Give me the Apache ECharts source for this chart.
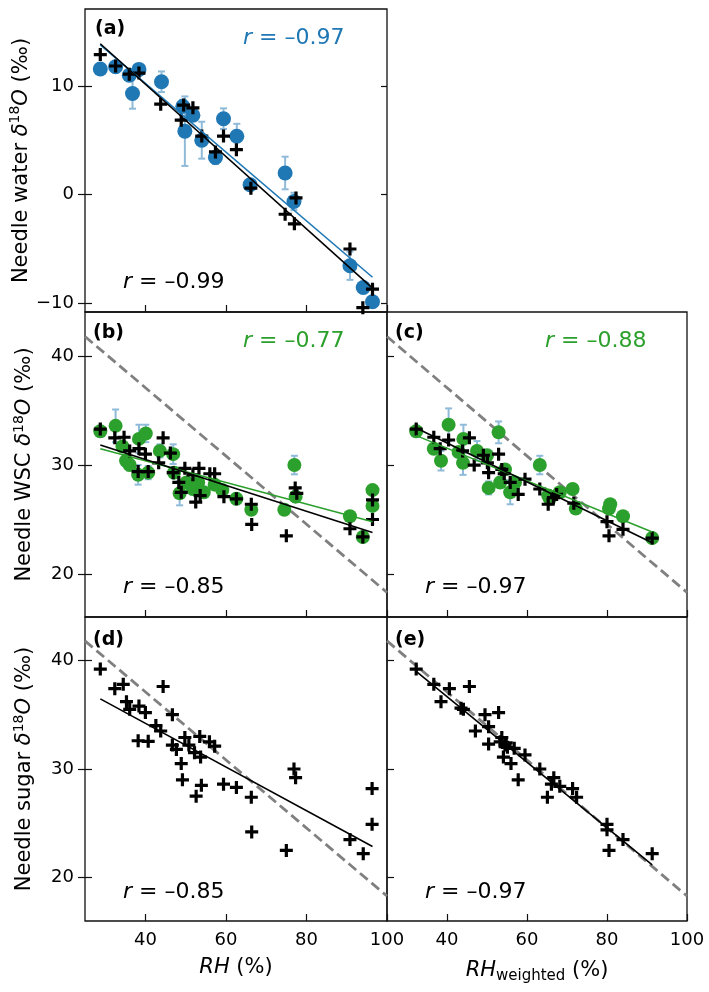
<!DOCTYPE html>
<html><head><meta charset="utf-8">
<script src="https://cdn.jsdelivr.net/npm/echarts@6/dist/echarts.min.js"></script>
<style>html,body{margin:0;padding:0;background:#fff}#c{width:709px;height:992px}</style>
</head><body><div id="c"></div>
<script>
// ---------- tick labels ----------
const xTicks = [40, 60, 80, 100];
const yTicksWater = [-10, 0, 10];
const yTicksWSC = [20, 30, 40];
const yTicksSugar = [20, 30, 40];

// ---------- panel (a): needle water ----------
const aCrossX = [28.8, 32.6, 36.0, 38.4, 43.8, 49.5, 51.8, 48.9, 54.0, 59.4, 57.4, 62.6, 66.2, 74.7, 77.0, 77.4, 90.8, 96.4, 94.0];
const aCrossY = [12.9, 11.85, 11.1, 11.2, 8.34, 8.25, 8.0, 6.86, 5.4, 5.4, 3.94, 4.15, 0.6, -1.8, -2.68, -0.3, -5.0, -8.7, -10.4];
const aCircX = [28.8, 32.6, 36.0, 36.8, 38.4, 44.0, 49.3, 51.8, 49.8, 54.0, 59.4, 57.4, 62.7, 66.0, 74.7, 76.9, 90.8, 94.1, 96.4];
const aCircY = [11.57, 11.78, 11.0, 9.32, 11.54, 10.4, 8.15, 7.32, 5.85, 5.02, 7.0, 3.42, 5.38, 0.92, 2.0, -0.62, -6.54, -8.54, -9.85];
const aCircErr = [0.2, 0.3, 0.3, 1.4, 0.4, 0.95, 0.6, 0.3, 3.2, 1.7, 0.95, 0.6, 1.15, 0.4, 1.5, 0.8, 1.3, 0.3, 0.3];
const aFitBlackX = [28.8, 96.4], aFitBlackY = [13.9, -8.6];
const aFitBlueX = [28.8, 96.4], aFitBlueY = [13.8, -7.6];

// ---------- panel (b): WSC vs RH ----------
const bCrossX = [28.8, 32.4, 34.7, 36.1, 38.4, 40.0, 38.2, 40.7, 43.3, 44.4, 46.2, 46.9, 48.3, 48.9, 49.8, 51.8, 52.5, 53.3, 53.6, 56.0, 57.2, 59.5, 62.6, 66.3, 66.4, 75.0, 77.2, 77.6, 90.8, 94.0, 96.4, 96.4];
const bCrossY = [33.3, 32.5, 32.55, 31.3, 31.5, 31.0, 29.4, 29.4, 30.2, 32.5, 31.1, 29.3, 28.4, 27.5, 29.7, 29.1, 26.6, 29.7, 27.2, 29.2, 29.2, 27.1, 26.9, 26.4, 24.55, 23.5, 27.9, 27.4, 24.15, 23.4, 26.8, 25.0];
const bCircX = [28.8, 32.6, 34.3, 35.2, 36.1, 38.4, 40.1, 38.2, 40.7, 43.6, 46.9, 47.1, 48.5, 50.2, 51.8, 53.1, 54.5, 57.2, 59.1, 62.6, 66.3, 74.5, 77.0, 77.3, 90.8, 94.0, 96.4, 96.4];
const bCircY = [33.1, 33.6, 31.7, 30.4, 30.0, 32.4, 32.9, 29.1, 29.3, 31.3, 31.0, 29.3, 27.4, 28.4, 27.8, 28.4, 27.5, 28.2, 27.7, 26.9, 25.9, 25.9, 30.0, 27.1, 25.3, 23.4, 27.7, 26.25];
const bCircErr = [0.5, 1.5, 0.4, 0.5, 0.5, 1.3, 0.8, 0.9, 0.6, 0.6, 0.9, 0.5, 1.1, 0.4, 0.5, 0.4, 0.5, 0.4, 0.4, 0.5, 0.4, 0.4, 0.85, 0.5, 0.4, 0.4, 0.4, 0.4];
const bFitBlackX = [28.8, 96.4], bFitBlackY = [31.85, 23.8];
const bFitGreenX = [28.8, 96.4], bFitGreenY = [31.5, 24.8];

// ---------- panel (c): WSC vs RH weighted ----------
const cCrossX = [32.3, 36.7, 40.4, 38.3, 43.9, 45.6, 46.8, 49.1, 50.1, 50.4, 52.9, 53.7, 54.3, 55.8, 57.8, 59.5, 63.2, 65.3, 66.6, 67.4, 71.7, 80.0, 80.5, 84.0, 91.3];
const cCrossY = [33.3, 32.55, 32.3, 31.5, 31.3, 32.5, 30.0, 30.9, 30.2, 29.3, 31.0, 29.6, 29.2, 28.4, 27.3, 28.7, 27.8, 26.4, 27.0, 27.3, 26.5, 24.8, 23.5, 24.1, 23.3];
const cCircX = [32.3, 36.7, 40.4, 38.5, 44.1, 44.0, 42.9, 47.5, 50.0, 50.4, 52.9, 53.3, 54.5, 55.8, 57.0, 63.2, 65.3, 65.7, 68.2, 71.4, 72.2, 80.5, 80.8, 84.0, 91.3];
const cCircY = [33.1, 31.5, 33.7, 30.4, 32.4, 30.2, 31.2, 31.3, 30.9, 27.9, 33.0, 28.4, 29.6, 27.5, 28.4, 30.0, 27.2, 26.9, 27.5, 27.8, 26.0, 26.0, 26.4, 25.3, 23.3];
const cCircErr = [0.5, 0.4, 1.5, 0.9, 1.3, 1.1, 0.4, 0.9, 0.5, 0.6, 1.0, 0.5, 0.4, 1.1, 0.4, 0.85, 0.5, 0.4, 0.4, 0.4, 0.4, 0.4, 0.4, 0.4, 0.4];
const cFitBlackX = [32.3, 91.3], cFitBlackY = [33.4, 22.86];
const cFitGreenX = [32.3, 91.3], cFitGreenY = [32.7, 23.85];

// ---------- panel (d): sugar vs RH ----------
const dCrossX = [28.8, 32.4, 34.5, 35.3, 36.1, 38.4, 40.0, 38.2, 40.7, 42.6, 43.8, 44.4, 46.7, 46.7, 47.7, 48.9, 49.2, 49.8, 50.8, 52.2, 52.6, 53.5, 53.7, 53.9, 55.9, 57.2, 59.4, 62.6, 66.3, 66.4, 75.0, 76.9, 77.3, 90.8, 94.1, 96.3, 96.3];
const dCrossY = [39.2, 37.4, 37.8, 36.2, 35.5, 35.8, 35.2, 32.6, 32.55, 34.0, 33.5, 37.6, 35.0, 32.2, 31.8, 30.5, 29.0, 32.9, 32.2, 31.5, 27.5, 33.0, 31.1, 28.5, 32.5, 32.1, 28.6, 28.3, 27.4, 24.2, 22.5, 30.0, 29.2, 23.5, 22.2, 28.2, 24.9];
const dFitX = [28.8, 96.4], dFitY = [36.46, 22.86];

// ---------- panel (e): sugar vs RH weighted ----------
const eCrossX = [32.3, 36.7, 40.6, 38.5, 45.6, 43.5, 44.1, 49.5, 50.4, 52.9, 47.1, 50.4, 53.7, 54.5, 54.1, 55.1, 56.0, 56.8, 57.8, 59.5, 63.2, 65.1, 66.1, 66.7, 68.2, 71.4, 72.4, 80.0, 80.0, 80.5, 84.0, 91.3, 53.3, 54.8];
const eCrossY = [39.2, 37.8, 37.4, 36.2, 37.6, 35.6, 35.5, 35.0, 33.9, 35.2, 33.5, 32.3, 32.9, 32.2, 31.1, 32.0, 30.5, 31.9, 29.0, 31.3, 30.0, 27.4, 28.6, 29.2, 28.4, 28.2, 27.4, 24.9, 24.4, 22.5, 23.5, 22.2, 32.5, 32.4];
const eFitX = [32.3, 91.3], eFitY = [39.0, 21.17];

// ---------- reference (dashed) line ----------
const refX = [25, 100], refY = [41.8, 18.3];

// ---------- r values ----------
const rLabels = {
  a: ['–0.97', '–0.99'], b: ['–0.77', '–0.85'], c: ['–0.88', '–0.97'], d: [null, '–0.85'], e: [null, '–0.97']
};

const FONT = 'DejaVu Sans';
const BLUE = '#1f77b4', GREEN = '#2ca02c', ERR = '#8fbbd9';
const PLUS = 'path://M0,4.9H4.9V0H8.1V4.9H13V8.1H8.1V13H4.9V8.1H0Z';
const zip = (xs, ys, es) => xs.map((x, i) => es ? [x, ys[i], es[i]] : [x, ys[i]]);
const fmt = v => v < 0 ? '\u2212' + Math.abs(v) : String(v);

const gridDefs = [
  {left: 85, top: 9, width: 302, height: 303},
  {left: 85, top: 312, width: 302, height: 305},
  {left: 387, top: 312, width: 300, height: 305},
  {left: 85, top: 617, width: 302, height: 304},
  {left: 387, top: 617, width: 300, height: 304}
];
const yRanges = [[-10.8, 17.1], [16.05, 44.05], [16.05, 44.05], [16.0, 44.0], [16.0, 44.0]];
const yTickSets = [yTicksWater, yTicksWSC, yTicksWSC, yTicksSugar, yTicksSugar];
const leftPanels = [true, true, false, true, false];
const rightTicks = [true, false, false, false, false];

const nameRich = {
  n: {fontFamily: FONT, fontSize: 21, color: '#000'},
  i: {fontFamily: FONT, fontSize: 21, color: '#000', fontStyle: 'italic'},
  s: {fontFamily: FONT, fontSize: 14, color: '#000', padding: [0, 0, 12, 0]},
  w: {fontFamily: FONT, fontSize: 15, color: '#000', padding: [12, 0, 0, 0]}
};
const yNames = [
  '{n|Needle water }{i|δ}{s|18}{i|O}{n| (‰)}',
  '{n|Needle WSC }{i|δ}{s|18}{i|O}{n| (‰)}',
  '',
  '{n|Needle sugar }{i|δ}{s|18}{i|O}{n| (‰)}',
  ''
];

const grid = gridDefs.map(g => Object.assign({show: true, borderColor: '#111', borderWidth: 1.3, backgroundColor: 'transparent', containLabel: false}, g));
const xAxis = [], yAxis = [], series = [];
const mainY = [];

gridDefs.forEach((g, gi) => {
  const bottomRow = gi >= 3;
  xAxis.push({
    type: 'value', gridIndex: gi, min: 25, max: 100, position: 'bottom',
    axisLine: {show: false, onZero: false},
    splitLine: {show: false},
    axisTick: {show: true, inside: true, length: 7, customValues: xTicks, lineStyle: {color: '#111', width: 1.2}},
    axisLabel: {show: bottomRow, customValues: xTicks, fontFamily: FONT, fontSize: 18, color: '#000', margin: 10},
    name: bottomRow ? (gi === 3 ? '{i|RH}{n| (%)}' : '{i|RH}{w|weighted}{n| (%)}') : '',
    nameLocation: 'middle', nameGap: 36,
    nameTextStyle: {fontFamily: FONT, fontSize: 21, color: '#000', rich: nameRich}
  });
  const base = {type: 'value', gridIndex: gi, min: yRanges[gi][0], max: yRanges[gi][1], splitLine: {show: false}, axisLine: {show: false, onZero: false}};
  mainY[gi] = yAxis.length;
  yAxis.push(Object.assign({}, base, {
    position: 'left',
    axisTick: {show: true, inside: true, length: 7, customValues: yTickSets[gi], lineStyle: {color: '#111', width: 1.2}},
    axisLabel: {show: leftPanels[gi], customValues: yTickSets[gi], fontFamily: FONT, fontSize: 18, color: '#000', margin: 11, formatter: fmt},
    name: yNames[gi], nameLocation: 'middle', nameGap: 47, nameRotate: 90,
    nameTextStyle: {fontFamily: FONT, fontSize: 21, color: '#000', rich: nameRich}
  }));
  if (rightTicks[gi]) {
    yAxis.push(Object.assign({}, base, {
      position: 'right',
      axisTick: {show: true, inside: true, length: 6, customValues: yTickSets[gi], lineStyle: {color: '#111', width: 1.2}},
      axisLabel: {show: false}
    }));
  }
  if (leftPanels[gi]) {
    yAxis.push(Object.assign({}, base, {
      position: 'left',
      axisTick: {show: true, inside: false, length: 7, customValues: yTickSets[gi], lineStyle: {color: '#111', width: 1.2}},
      axisLabel: {show: false}
    }));
  }
});

function lineS(gi, xs, ys, color, width, type, z) {
  series.push({type: 'line', xAxisIndex: gi, yAxisIndex: mainY[gi], data: zip(xs, ys), symbol: 'none', silent: true,
    lineStyle: {color, width, type: type || 'solid'}, z: z || 5, clip: true});
}
function errS(gi, xs, ys, es) {
  series.push({type: 'custom', xAxisIndex: gi, yAxisIndex: mainY[gi], data: zip(xs, ys, es), z: 2, silent: true,
    renderItem: (params, api) => {
      const x = api.value(0), y = api.value(1), e = api.value(2);
      const t = api.coord([x, y + e]), b = api.coord([x, y - e]);
      const st = {stroke: ERR, lineWidth: 2};
      return {type: 'group', children: [
        {type: 'line', shape: {x1: t[0], y1: t[1], x2: b[0], y2: b[1]}, style: st},
        {type: 'line', shape: {x1: t[0] - 3.5, y1: t[1], x2: t[0] + 3.5, y2: t[1]}, style: st},
        {type: 'line', shape: {x1: b[0] - 3.5, y1: b[1], x2: b[0] + 3.5, y2: b[1]}, style: st}
      ]};
    }});
}
function circS(gi, xs, ys, color, size) {
  series.push({type: 'scatter', xAxisIndex: gi, yAxisIndex: mainY[gi], data: zip(xs, ys), symbol: 'circle', symbolSize: size,
    itemStyle: {color, opacity: 1}, z: 3, silent: true});
}
function crossS(gi, xs, ys) {
  series.push({type: 'scatter', xAxisIndex: gi, yAxisIndex: mainY[gi], data: zip(xs, ys), symbol: PLUS, symbolSize: 13,
    itemStyle: {color: '#000', opacity: 1}, z: 4, silent: true});
}

// (a)
errS(0, aCircX, aCircY, aCircErr);
circS(0, aCircX, aCircY, BLUE, 15);
crossS(0, aCrossX, aCrossY);
lineS(0, aFitBlueX, aFitBlueY, BLUE, 1.6);
lineS(0, aFitBlackX, aFitBlackY, '#000', 1.6);
// (b)
lineS(1, refX, refY, '#808080', 2.8, [10, 5], 1);
errS(1, bCircX, bCircY, bCircErr);
circS(1, bCircX, bCircY, GREEN, 14);
crossS(1, bCrossX, bCrossY);
lineS(1, bFitGreenX, bFitGreenY, GREEN, 1.6);
lineS(1, bFitBlackX, bFitBlackY, '#000', 1.6);
// (c)
lineS(2, refX, refY, '#808080', 2.8, [10, 5], 1);
errS(2, cCircX, cCircY, cCircErr);
circS(2, cCircX, cCircY, GREEN, 14);
crossS(2, cCrossX, cCrossY);
lineS(2, cFitGreenX, cFitGreenY, GREEN, 1.6);
lineS(2, cFitBlackX, cFitBlackY, '#000', 1.6);
// (d)
lineS(3, refX, refY, '#808080', 2.8, [10, 5], 1);
crossS(3, dCrossX, dCrossY);
lineS(3, dFitX, dFitY, '#000', 1.6);
// (e)
lineS(4, refX, refY, '#808080', 2.8, [10, 5], 1);
crossS(4, eCrossX, eCrossY);
lineS(4, eFitX, eFitY, '#000', 1.6);

// ---------- annotations ----------
const rFont = 22;
function rText(x, y, val, color) {
  return {type: 'text', x, y, silent: true, z: 10, style: {
    text: '{i|r}{t| = ' + val + '}', align: 'left', verticalAlign: 'middle',
    rich: {
      i: {fontFamily: FONT, fontSize: rFont, fontStyle: 'italic', fill: color},
      t: {fontFamily: FONT, fontSize: rFont, fill: color}
    }
  }};
}
function tag(x, y, t) {
  return {type: 'text', x, y, silent: true, z: 10, style: {text: t, fontFamily: FONT, fontSize: 19, fontWeight: 'bold', fill: '#000', align: 'left', verticalAlign: 'middle'}};
}
const graphic = [
  tag(95, 29, '(a)'), rText(243, 38, rLabels.a[0], BLUE), rText(123, 282, rLabels.a[1], '#000'),
  tag(93, 333, '(b)'), rText(243, 341, rLabels.b[0], GREEN), rText(123, 587, rLabels.b[1], '#000'),
  tag(395, 333, '(c)'), rText(545, 341, rLabels.c[0], GREEN), rText(425, 587, rLabels.c[1], '#000'),
  tag(93, 640, '(d)'), rText(123, 892, rLabels.d[1], '#000'),
  tag(395, 640, '(e)'), rText(425, 892, rLabels.e[1], '#000')
];

const chart = echarts.init(document.getElementById('c'), null, {renderer: 'canvas'});
chart.setOption({animation: false, backgroundColor: '#fff', grid, xAxis, yAxis, series, graphic});
</script>
</body></html>
